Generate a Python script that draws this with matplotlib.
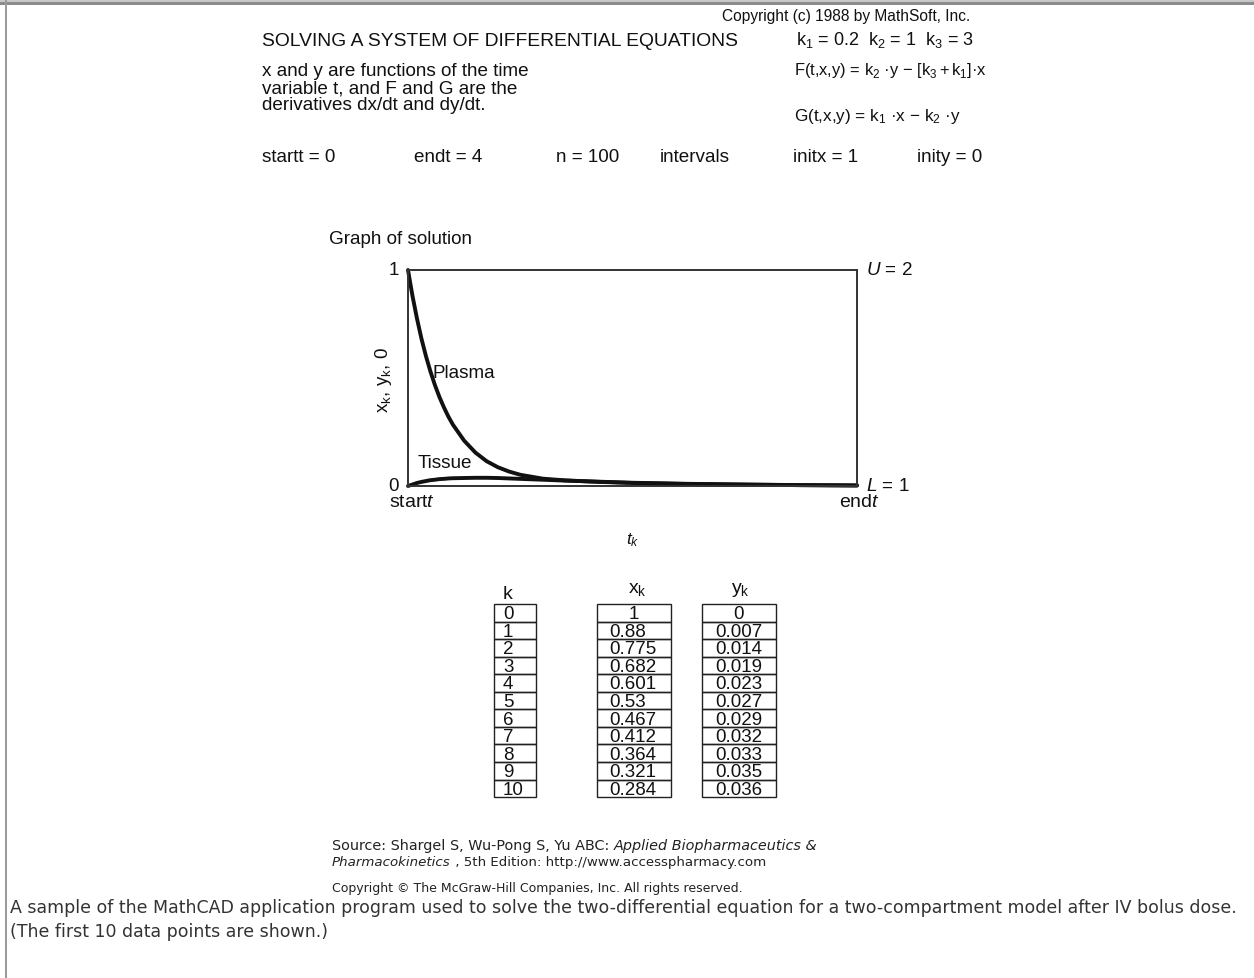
import matplotlib
matplotlib.use("Agg")
import matplotlib.pyplot as plt
from matplotlib.patches import Rectangle

W, H = 1254, 979

plt.rcParams['font.family'] = ['Liberation Sans', 'DejaVu Sans']
plt.rcParams['mathtext.fontset'] = 'custom'
plt.rcParams['mathtext.rm'] = 'Liberation Sans'
plt.rcParams['mathtext.it'] = 'Liberation Sans:italic'
plt.rcParams['mathtext.default'] = 'regular'

# table values (k = 0..10, dt = 0.04)
k_vals = ['0', '1', '2', '3', '4', '5', '6', '7', '8', '9', '10']
x_table = ['1', '0.88', '0.775', '0.682', '0.601', '0.53', '0.467', '0.412', '0.364', '0.321', '0.284']
y_table = ['0', '0.007', '0.014', '0.019', '0.023', '0.027', '0.029', '0.032', '0.033', '0.035', '0.036']

# curve: table points plus values
t_vals = [0.0, 0.04, 0.08, 0.12, 0.16, 0.20, 0.24, 0.28, 0.32, 0.36, 0.40,
          0.5, 0.6, 0.7, 0.8, 0.9, 1.0, 1.2, 1.4, 1.7, 2.0, 2.5, 3.0, 3.5, 4.0]
plasma = [1, 0.88, 0.775, 0.682, 0.601, 0.53, 0.467, 0.412, 0.364, 0.321, 0.284,
          0.21, 0.155, 0.115, 0.087, 0.067, 0.052, 0.034, 0.026, 0.019, 0.014, 0.009, 0.006, 0.004, 0.002]
tissue = [0, 0.007, 0.014, 0.019, 0.023, 0.027, 0.029, 0.032, 0.033, 0.035, 0.036,
          0.037, 0.038, 0.038, 0.037, 0.035, 0.033, 0.029, 0.025, 0.02, 0.015, 0.01, 0.007, 0.004, 0.003]

fig = plt.figure(figsize=(W / 100, H / 100), dpi=100)
fig.patch.set_facecolor('white')

# overlay in pixel coordinates for the page text
bg = fig.add_axes([0, 0, 1, 1])
bg.set_xlim(0, W)
bg.set_ylim(H, 0)
bg.axis('off')

# page frame
bg.add_patch(Rectangle((0, 0), W, 3, color='#c8c8c8', lw=0))
bg.add_patch(Rectangle((0, 3), W, 2.5, color='#8c8c8c', lw=0))
bg.add_patch(Rectangle((5, 0), 2.2, H, color='#9a9a9a', lw=0))


def put(x, y, s, size=13.6, **kw):
    kw.setdefault('va', 'center')
    kw.setdefault('color', '#111111')
    return bg.text(x, y, s, fontsize=size, **kw)


# header
put(970, 17, 'Copyright (c) 1988 by MathSoft, Inc.', ha='right', size=11.2)
put(262, 41, 'SOLVING A SYSTEM OF DIFFERENTIAL EQUATIONS', size=13.85)
put(796, 40, r'$k_1$ = 0.2  $k_2$ = 1  $k_3$ = 3', size=13)
put(262, 72, 'x and y are functions of the time')
put(262, 89, 'variable t, and F and G are the')
put(262, 106, 'derivatives dx/dt and dy/dt.')
put(794, 71, r'F(t,x,y) = $k_2$ ·y − $\left[k_3 + k_1\right]$·x', size=11.9)
put(794, 116, r'G(t,x,y) = $k_1$ ·x − $k_2$ ·y', size=12.3)
for x, s in [(262, 'startt = 0'), (414, 'endt = 4'), (556, 'n = 100'),
             (660, 'intervals'), (793, 'initx = 1'), (917, 'inity = 0')]:
    put(x, 158, s)

put(329, 240, 'Graph of solution')

# graph
L, R, T, B = 408, 857, 271, 487
ax = fig.add_axes([L / W, 1 - B / H, (R - L) / W, (B - T) / H])
ax.plot(t_vals, plasma, color='#111111', lw=2.8, clip_on=False, solid_capstyle='round')
ax.plot(t_vals, tissue, color='#111111', lw=2.8, clip_on=False, solid_capstyle='round')
ax.set_xlim(0, 4)
ax.set_ylim(0, 1)
ax.set_xticks([])
ax.set_yticks([])
for sp in ax.spines.values():
    sp.set_linewidth(1.4)
    sp.set_color('#333333')
ax.text(0.215, 0.525, 'Plasma', fontsize=13.6, va='center', color='#111111')
ax.text(0.09, 0.11, 'Tissue', fontsize=13.6, va='center', color='#111111')

put(399, T, '1', ha='right')
put(399, B, '0', ha='right')
put(389, 503, r'start$\mathit{t}$', size=14)
put(880, 503, r'end$\mathit{t}$', ha='right', size=14)
put(866, T, r'$\mathit{U}$ = 2')
put(866, B, r'$\mathit{L}$ = 1')
put(383, 380, r'$x_k$, $y_k$, 0', rotation=90, ha='center', size=13.5)
put(633, 540, r'$\mathit{t}_{\mathit{k}}$', ha='center', size=12.5)

# table
top, rh = 605, 17.55
cols = [(494, 536), (597, 671), (702, 776)]
for (x0, x1) in cols:
    for i in range(len(k_vals)):
        bg.add_patch(Rectangle((x0, top + i * rh), x1 - x0, rh, fill=False,
                               ec='#222222', lw=1.0))
put(508, 595, 'k', ha='center', size=14)
put(637, 590, r'$x_k$', ha='center', size=14)
put(740, 590, r'$y_k$', ha='center', size=14)
for i in range(len(k_vals)):
    yc = top + (i + 0.5) * rh + 1
    put(503, yc, k_vals[i], size=13.5)
    if i == 0:
        put(634, yc, x_table[i], ha='center', size=13.5)
    else:
        put(609, yc, x_table[i], size=13.5)
    put(739, yc, y_table[i], ha='center', size=13.5)

# footer
fig.canvas.draw()
rend = fig.canvas.get_renderer()


def run(x, y, parts, size):
    for s, style in parts:
        t = put(x, y, s, size=size, family='DejaVu Sans', style=style, color='#222222')
        x += t.get_window_extent(rend).width


run(332, 846, [('Source: Shargel S, Wu-Pong S, Yu ABC: ', 'normal'),
               ('Applied Biopharmaceutics &', 'italic')], 10.4)
run(332, 863, [('Pharmacokinetics', 'italic'),
               (' , 5th Edition: http://www.accesspharmacy.com', 'normal')], 9.6)
run(332, 889, [('Copyright © The McGraw-Hill Companies, Inc. All rights reserved.', 'normal')], 9.0)

put(10, 908, 'A sample of the MathCAD application program used to solve the two-differential '
    'equation for a two-compartment model after IV bolus dose.', size=12.55,
    family='DejaVu Sans', color='#333333')
put(10, 932, '(The first 10 data points are shown.)', size=12.55,
    family='DejaVu Sans', color='#333333')

fig.savefig('out.png', dpi=100)
